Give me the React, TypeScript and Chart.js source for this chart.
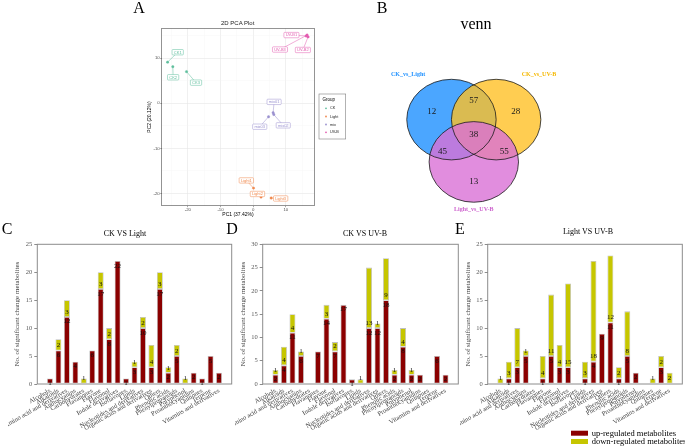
import React, { useEffect, useRef } from 'react';
import { Chart, registerables } from 'chart.js';

Chart.register(...registerables);

const SERIF = '"Liberation Serif", "Times New Roman", serif';
const SANS = '"Liberation Sans", Arial, sans-serif';

// ---------- Bar panels (C, D, E) ----------
const categories = [
  'Alcohols', 'Alkaloids', 'Amino acid and derivatives', 'Anthocyanins', 'Carbohydrates',
  'Flavanones', 'Flavone', 'Flavonol', 'Indole derivatives', 'Isoflavones', 'Lipids',
  'Nucleotides and derivatives', 'Organic acids and derivatives', 'Others', 'Phenolic acids',
  'Phenylpropanoids', 'Polyphenol', 'Proanthocyanidins', 'Quinones', 'Terpene',
  'Vitamins and derivatives',
];
const ckLightUp = [1, 6, 12, 4, 0, 6, 17, 8, 22, 1, 3, 10, 3, 17, 2, 5, 0, 2, 1, 5, 2];
const ckLightDown = [0, 2, 3, 0, 1, 0, 3, 2, 0, 0, 1, 2, 4, 3, 1, 2, 1, 0, 0, 0, 0];
const ckUvbUp = [2, 4, 11, 6, 0, 7, 14, 7, 17, 1, 0, 12, 12, 18, 2, 8, 2, 2, 0, 6, 2];
const ckUvbDown = [1, 4, 4, 1, 0, 0, 3, 2, 0, 0, 1, 13, 1, 9, 1, 4, 1, 0, 0, 0, 0];
const lightUvbUp = [0, 1, 3, 5, 0, 1, 5, 3, 3, 0, 1, 4, 9, 11, 1, 5, 2, 0, 0, 3, 0];
const lightUvbDown = [1, 3, 7, 1, 0, 4, 11, 4, 15, 0, 3, 18, 0, 12, 2, 8, 0, 0, 1, 2, 2];
const yMaxC = 25;
const yMaxD = 30;
const yMaxE = 25;
const yStep = 5;
const seriesNames = ['up-regulated metabolites', 'down-regulated metabolites'];
const yAxisTitle = 'No. of significant change metabolites';

// ---------- PCA panel (A) ----------
const pcaGroups = ['CK', 'Light', 'mix', 'UV-B'];
const pcaSamples = [
  ['CK1', 'CK2', 'CK3'],
  ['Light1', 'Light2', 'Light3'],
  ['mix01', 'mix02', 'mix03'],
  ['UV-B1', 'UV-B2', 'UV-B3'],
];
const pc1 = [
  [-26.2, -24.6, -20.4],
  [0.1, 2.4, 5.5],
  [6.1, 6.3, 4.7],
  [16.2, 16.8, 16.5],
];
const pc2 = [
  [9.1, 8.1, 7.0],
  [-18.8, -20.8, -21.0],
  [-2.1, -2.5, -3.0],
  [14.9, 14.7, 15.1],
];
const pcaTicks = [-20, -10, 0, 10];
// label (ggrepel) placements, in data units
const pcaLabelPos: Record<string, number[]> = {
  CK1: [-23.1, 11.3], CK2: [-24.5, 5.75], CK3: [-17.5, 4.56],
  Light1: [-2.1, -17.1], Light2: [1.3, -20.1], Light3: [8.4, -21.1],
  mix01: [6.4, 0.3], mix02: [9.2, -4.9], mix03: [2.0, -5.2],
  'UV-B1': [11.7, 15.1], 'UV-B2': [15.2, 11.8], 'UV-B3': [8.2, 11.9],
};
const pcaColors = ['#5DBE9C', '#F0894E', '#9A91CF', '#E35DB0'];

// ---------- Venn panel (B) ----------
const vennSets = ['CK_vs_Light', 'CK_vs_UV-B', 'Light_vs_UV-B'];
const vennCounts = [12, 28, 13, 57, 45, 55, 38]; // A only, B only, C only, AB, AC, BC, ABC
// layout constants (data units of the venn canvas)
const vennCenters = [[-0.5, 0.34], [0.5, 0.34], [0, -0.71]];
const vennRadius = 1;
const vennCountPos = [[-0.94, 0.54], [0.94, 0.54], [0, -1.2], [0, 0.81], [-0.7, -0.46], [0.68, -0.46], [0, -0.04]];
const vennSetLabelPos = [[-1.47, 1.45], [1.46, 1.45], [0, -1.89]];
const vennFill = ['rgba(30,144,255,0.8)', 'rgba(255,193,37,0.8)', 'rgba(218,112,214,0.8)'];
const vennText = ['#1E90FF', '#F5B800', '#CC5FCC'];

const UP_COLOR = '#8B0000';
const DOWN_COLOR = '#C6C600';

// ---------------- plugins ----------------
const framePlugin = {
  id: 'frame',
  beforeDatasetsDraw(chart: any) {
    const { ctx, chartArea: a } = chart;
    ctx.save();
    ctx.strokeStyle = '#8C8C8C';
    ctx.lineWidth = 1;
    ctx.strokeRect(a.left, a.top, a.right - a.left, a.bottom - a.top);
    ctx.restore();
  },
};

const barLabelPlugin = {
  id: 'barLabels',
  afterDatasetsDraw(chart: any) {
    const ctx = chart.ctx;
    ctx.save();
    ctx.font = `7px ${SERIF}`;
    ctx.fillStyle = '#111';
    ctx.textAlign = 'center';
    chart.data.datasets.forEach((ds: any, di: number) => {
      const meta = chart.getDatasetMeta(di);
      meta.data.forEach((el: any, i: number) => {
        const v = ds.data[i].y;
        if (!v) return;
        const p = el.getProps(['x', 'y', 'base'], true);
        if (di === 0) {
          ctx.textBaseline = 'top';
          ctx.fillText(String(v), p.x, p.y + 1.2);
        } else {
          ctx.textBaseline = 'bottom';
          ctx.fillText(String(v), p.x, p.base - 1.5);
        }
      });
    });
    ctx.restore();
  },
};

const barLegendPlugin = {
  id: 'barLegend',
  afterDraw(chart: any) {
    const ctx = chart.ctx;
    ctx.save();
    const rows = [205.7, 214];
    chart.data.datasets.forEach((ds: any, i: number) => {
      const y = rows[i];
      ctx.fillStyle = ds.backgroundColor;
      ctx.fillRect(111, y, 17, 5);
      ctx.fillStyle = '#000';
      ctx.font = `8.5px ${SERIF}`;
      ctx.textAlign = 'left';
      ctx.textBaseline = 'middle';
      ctx.fillText(ds.label, 131.7, y + 2.6);
    });
    ctx.restore();
  },
};

function barConfig(up: number[], down: number[], yMax: number, yAxisWidth: number, yTitlePad: number, padRight: number, legend: boolean): any {
  const pts = (arr: number[]) => arr.map((v, i) => ({ x: i, y: v }));
  const common = {
    borderColor: '#BFBFBF',
    borderWidth: (c: any) => (c.raw && c.raw.y > 0 ? 0.8 : 0),
    borderSkipped: false,
    barPercentage: 0.7,
    categoryPercentage: 1,
  };
  const plugins: any[] = [framePlugin, barLabelPlugin];
  if (legend) plugins.push(barLegendPlugin);
  return {
    type: 'bar',
    data: {
      datasets: [
        { label: seriesNames[0], data: pts(up), backgroundColor: UP_COLOR, ...common },
        { label: seriesNames[1], data: pts(down), backgroundColor: DOWN_COLOR, ...common },
      ],
    },
    options: {
      responsive: false,
      animation: false,
      devicePixelRatio: 1,
      layout: { padding: { left: 0, right: padRight, top: 19.3, bottom: 0 } },
      plugins: { legend: { display: false }, tooltip: { enabled: false }, title: { display: false } },
      scales: {
        x: {
          type: 'linear',
          stacked: true,
          min: -1,
          max: 21,
          grid: { display: false, drawTicks: false },
          border: { display: false },
          ticks: {
            stepSize: 1,
            autoSkip: false,
            maxTicksLimit: 100,
            includeBounds: false,
            minRotation: 30,
            maxRotation: 30,
            padding: 3,
            color: '#404040',
            font: { family: SERIF, size: 6.5 },
            callback: (v: any) => (categories[v] !== undefined ? categories[v] : ''),
          },
          afterFit: (s: any) => { s.height = 64; },
        },
        y: {
          stacked: true,
          min: 0,
          max: yMax,
          ticks: { stepSize: yStep, color: '#595959', padding: 2, font: { family: SERIF, size: 6.5 } },
          grid: { drawOnChartArea: false, drawTicks: true, tickLength: 3, color: '#8C8C8C' },
          border: { display: false },
          title: {
            display: true,
            text: yAxisTitle,
            color: '#404040',
            font: { family: SERIF, size: 7 },
            padding: { top: yTitlePad, bottom: 0 },
          },
          afterFit: (s: any) => { s.width = yAxisWidth; },
        },
      },
    },
    plugins,
  };
}

// ---------------- PCA ----------------
const pcaFramePlugin = {
  id: 'pcaFrame',
  afterDatasetsDraw(chart: any) {
    const { ctx, chartArea: a } = chart;
    ctx.save();
    ctx.strokeStyle = '#4D4D4D';
    ctx.lineWidth = 0.6;
    ctx.strokeRect(a.left, a.top, a.right - a.left, a.bottom - a.top);
    ctx.restore();
  },
};

function roundRect(ctx: any, x: number, y: number, w: number, h: number, r: number) {
  ctx.beginPath();
  ctx.moveTo(x + r, y);
  ctx.lineTo(x + w - r, y);
  ctx.arcTo(x + w, y, x + w, y + r, r);
  ctx.lineTo(x + w, y + h - r);
  ctx.arcTo(x + w, y + h, x + w - r, y + h, r);
  ctx.lineTo(x + r, y + h);
  ctx.arcTo(x, y + h, x, y + h - r, r);
  ctx.lineTo(x, y + r);
  ctx.arcTo(x, y, x + r, y, r);
  ctx.closePath();
}

const pcaLabelPlugin = {
  id: 'pcaLabels',
  afterDatasetsDraw(chart: any) {
    const { ctx, scales } = chart;
    ctx.save();
    ctx.font = `4px ${SANS}`;
    ctx.textAlign = 'center';
    ctx.textBaseline = 'middle';
    chart.data.datasets.forEach((ds: any, di: number) => {
      const meta = chart.getDatasetMeta(di);
      meta.data.forEach((el: any, i: number) => {
        const name = ds.data[i].name;
        const lp = pcaLabelPos[name];
        const lx = scales.x.getPixelForValue(lp[0]);
        const ly = scales.y.getPixelForValue(lp[1]);
        ctx.strokeStyle = ds.borderColor;
        ctx.lineWidth = 0.5;
        ctx.beginPath();
        ctx.moveTo(el.x, el.y);
        ctx.lineTo(lx, ly);
        ctx.stroke();
        const w = ctx.measureText(name).width + 3.5;
        const h = 5.4;
        roundRect(ctx, lx - w / 2, ly - h / 2, w, h, 0.8);
        ctx.fillStyle = '#fff';
        ctx.fill();
        ctx.stroke();
        ctx.fillStyle = ds.borderColor;
        ctx.fillText(name, lx, ly + 0.2);
      });
    });
    ctx.restore();
  },
};

const pcaLegendPlugin = {
  id: 'pcaLegend',
  afterDraw(chart: any) {
    const ctx = chart.ctx;
    ctx.save();
    ctx.strokeStyle = '#7F7F7F';
    ctx.lineWidth = 0.6;
    ctx.strokeRect(189, 94, 26.7, 45);
    ctx.fillStyle = '#000';
    ctx.font = `4.5px ${SANS}`;
    ctx.textAlign = 'left';
    ctx.textBaseline = 'middle';
    ctx.fillText('Group', 192.5, 99.3);
    const rows = [108.3, 116.5, 124.5, 132.3];
    chart.data.datasets.forEach((ds: any, i: number) => {
      ctx.fillStyle = ds.backgroundColor;
      ctx.beginPath();
      ctx.arc(196, rows[i], 0.9, 0, Math.PI * 2);
      ctx.fill();
      ctx.fillStyle = '#222';
      ctx.font = `3.8px ${SANS}`;
      ctx.fillText(ds.label, 200, rows[i]);
    });
    ctx.restore();
  },
};

function pcaConfig(): any {
  const gridColor = (c: any) => (c.tick && c.tick.value % 10 === 0 ? '#E6E6E6' : '#F3F3F3');
  const gridWidth = (c: any) => (c.tick && c.tick.value % 10 === 0 ? 0.6 : 0.35);
  const tickColor = (c: any) => (c.tick && c.tick.value % 10 === 0 ? '#555' : 'rgba(0,0,0,0)');
  const tickCb = (v: any) => (pcaTicks.indexOf(v) >= 0 ? String(v) : '');
  return {
    type: 'scatter',
    data: {
      datasets: pcaGroups.map((g, gi) => ({
        label: g,
        data: pc1[gi].map((x, i) => ({ x, y: pc2[gi][i], name: pcaSamples[gi][i] })),
        backgroundColor: pcaColors[gi],
        borderColor: pcaColors[gi],
        pointRadius: 1.2,
        borderWidth: 0.4,
      })),
    },
    options: {
      responsive: false,
      animation: false,
      devicePixelRatio: 1,
      layout: { padding: { left: 14, right: 45.7, top: 28.3, bottom: 12 } },
      plugins: { legend: { display: false }, tooltip: { enabled: false } },
      scales: {
        x: {
          type: 'linear',
          min: -28,
          max: 18.7,
          ticks: { stepSize: 5, includeBounds: false, autoSkip: false, maxRotation: 0, padding: 0.5, callback: tickCb, color: '#4D4D4D', font: { family: SANS, size: 4.3 } },
          grid: { color: gridColor, lineWidth: gridWidth, tickLength: 1.5, tickColor, tickWidth: 0.5 },
          border: { display: false },
          title: { display: true, text: 'PC1 (37.42%)', color: '#000', font: { family: SANS, size: 5 }, padding: 0 },
          afterFit: (s: any) => { s.height = 12.3; },
        },
        y: {
          type: 'linear',
          min: -22.7,
          max: 16.6,
          ticks: { stepSize: 5, includeBounds: false, autoSkip: false, padding: 0.5, callback: tickCb, color: '#4D4D4D', font: { family: SANS, size: 4.3 } },
          grid: { color: gridColor, lineWidth: gridWidth, tickLength: 1.5, tickColor, tickWidth: 0.5 },
          border: { display: false },
          title: { display: true, text: 'PC2 (20.12%)', color: '#000', font: { family: SANS, size: 5 }, padding: { top: 2.3, bottom: 0 } },
          afterFit: (s: any) => { s.width = 17.7; },
        },
      },
    },
    plugins: [pcaFramePlugin, pcaLabelPlugin, pcaLegendPlugin],
  };
}

// ---------------- Venn ----------------
const vennPlugin = {
  id: 'venn',
  beforeDatasetsDraw(chart: any) {
    const { ctx, scales } = chart;
    const { x, y } = scales;
    const shapes = vennCenters.map(([cx, cy]) => {
      const px = x.getPixelForValue(cx);
      const py = y.getPixelForValue(cy);
      const rx = Math.abs(x.getPixelForValue(cx + vennRadius) - px);
      const ry = Math.abs(y.getPixelForValue(cy + vennRadius) - py);
      return { px, py, rx, ry };
    });
    ctx.save();
    shapes.forEach((s, i) => {
      ctx.beginPath();
      ctx.ellipse(s.px, s.py, s.rx, s.ry, 0, 0, Math.PI * 2);
      ctx.fillStyle = vennFill[i];
      ctx.fill();
    });
    ctx.strokeStyle = '#1a1a1a';
    ctx.lineWidth = 0.8;
    shapes.forEach((s) => {
      ctx.beginPath();
      ctx.ellipse(s.px, s.py, s.rx, s.ry, 0, 0, Math.PI * 2);
      ctx.stroke();
    });
    ctx.restore();
  },
  afterDatasetsDraw(chart: any) {
    const { ctx, scales } = chart;
    ctx.save();
    ctx.textAlign = 'center';
    ctx.textBaseline = 'middle';
    const meta = chart.getDatasetMeta(0);
    ctx.font = `9px ${SERIF}`;
    ctx.fillStyle = '#1a1a1a';
    meta.data.forEach((el: any, i: number) => {
      ctx.fillText(String(chart.data.datasets[0].data[i].count), el.x, el.y);
    });
    ctx.font = `bold 6px ${SERIF}`;
    vennSets.forEach((name, i) => {
      ctx.fillStyle = vennText[i];
      ctx.fillText(name, scales.x.getPixelForValue(vennSetLabelPos[i][0]), scales.y.getPixelForValue(vennSetLabelPos[i][1]));
    });
    ctx.restore();
  },
};

function vennConfig(): any {
  return {
    type: 'scatter',
    data: {
      datasets: [{
        label: 'regions',
        data: vennCounts.map((count, i) => ({ x: vennCountPos[i][0], y: vennCountPos[i][1], count })),
        pointRadius: 0,
      }],
    },
    options: {
      responsive: false,
      animation: false,
      devicePixelRatio: 1,
      layout: { padding: { left: 2.05, right: 4.45, top: 12.4, bottom: 4 } },
      plugins: { legend: { display: false }, tooltip: { enabled: false } },
      scales: {
        x: { type: 'linear', min: -2.5, max: 2.5, display: false },
        y: { type: 'linear', min: -2.3, max: 3.0, display: false },
      },
    },
    plugins: [vennPlugin],
  };
}

const abs = (left: number, top: number): React.CSSProperties => ({ position: 'absolute', left, top });

function Label({ x, y, size, text, family = SERIF, color = '#000' }: any) {
  return (
    <div
      style={{
        position: 'absolute', left: x, top: y, transform: 'translate(-50%, -50%)',
        fontFamily: family, fontSize: size, lineHeight: 1, whiteSpace: 'nowrap', color,
      }}
    >
      {text}
    </div>
  );
}

export default function App() {
  const pcaRef = useRef<HTMLCanvasElement>(null);
  const vennRef = useRef<HTMLCanvasElement>(null);
  const cRef = useRef<HTMLCanvasElement>(null);
  const dRef = useRef<HTMLCanvasElement>(null);
  const eRef = useRef<HTMLCanvasElement>(null);

  useEffect(() => {
    Chart.defaults.font.family = SERIF;
    const charts = [
      new Chart(pcaRef.current as any, pcaConfig()),
      new Chart(vennRef.current as any, vennConfig()),
      new Chart(cRef.current as any, barConfig(ckLightUp, ckLightDown, yMaxC, 29.3, 4.5, 3.3, false)),
      new Chart(dRef.current as any, barConfig(ckUvbUp, ckUvbDown, yMaxD, 27.7, 4.1, 3.7, false)),
      new Chart(eRef.current as any, barConfig(lightUvbUp, lightUvbDown, yMaxE, 27.7, 4.1, 0.7, true)),
    ];
    return () => charts.forEach((c) => c.destroy());
  }, []);

  return (
    <div style={{ position: 'absolute', left: 0, top: 0, width: 685, height: 448, background: '#fff', overflow: 'hidden' }}>
      <canvas ref={pcaRef} width={230} height={230} style={abs(130, 0)} />
      <canvas ref={vennRef} width={230} height={230} style={abs(360, 0)} />
      <canvas ref={cRef} width={227} height={223} style={abs(8, 225)} />
      <canvas ref={dRef} width={227} height={223} style={abs(235, 225)} />
      <canvas ref={eRef} width={225} height={223} style={abs(460, 225)} />
      <Label x={139} y={8} size={16} text="A" />
      <Label x={382} y={8} size={16} text="B" />
      <Label x={7} y={229} size={16} text="C" />
      <Label x={232} y={229} size={16} text="D" />
      <Label x={460} y={229} size={16} text="E" />
      <Label x={237.7} y={22.7} size={6} text="2D PCA Plot" family={SANS} color="#222" />
      <Label x={476} y={23.5} size={16} text="venn" />
      <Label x={125} y={233.5} size={8} text="CK VS Light" />
      <Label x={365} y={234} size={8} text="CK VS UV-B" />
      <Label x={588} y={232} size={8} text="Light VS UV-B" />
    </div>
  );
}
